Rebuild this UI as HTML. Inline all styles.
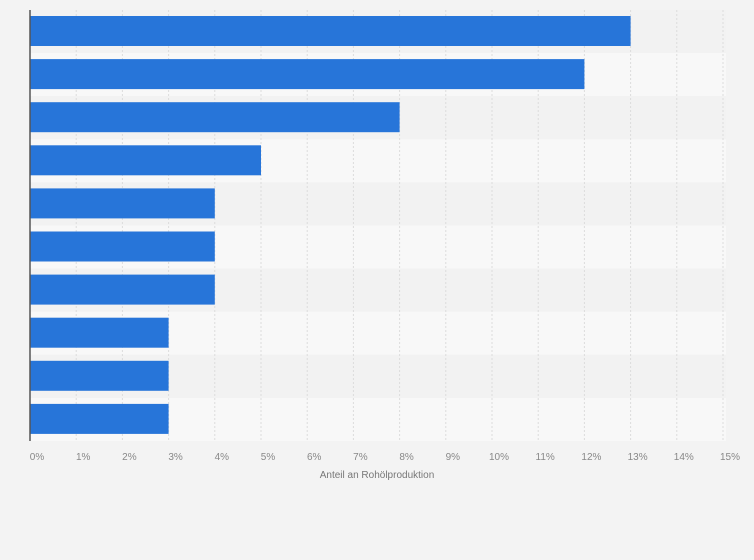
<!DOCTYPE html>
<html><head><meta charset="utf-8"><style>
body{margin:0;background:#f3f3f3;font-family:"Liberation Sans",sans-serif}
svg{display:block}
</style></head><body>
<svg id="c" width="754" height="560"></svg>
<script>
const categories=["A","B","C","D","E","F","G","H","I","J"];
const values=[13,12,8,5,4,4,4,3,3,3];
const ticks=[0,1,2,3,4,5,6,7,8,9,10,11,12,13,14,15];
const NS="http://www.w3.org/2000/svg";
const svgEl=document.getElementById('c');
const x0=30,x1=723,plotTop=10,plotBottom=441,maxV=15;
const xs=v=>x0+(x1-x0)*v/maxV;
const rowH=(plotBottom-plotTop)/categories.length;
function mk(t,a){const e=document.createElementNS(NS,t);for(const k in a)e.setAttribute(k,a[k]);svgEl.appendChild(e);return e;}
categories.forEach((c,i)=>{
  const r=mk('rect',{x:x0,y:plotTop+i*rowH,width:x1-x0+3,height:rowH,fill:i%2?'#f8f8f8':'#f2f2f2'});
  
  
});
ticks.forEach(t=>{
  if(t>0){const g=mk('line',{x1:xs(t),x2:xs(t),y1:plotTop,y2:plotBottom,stroke:'#dcdcdc','stroke-dasharray':'2,2'});
  
  }
  const tx=mk('text',{x:xs(t)+7,y:460,'font-size':10,fill:'#888','text-anchor':'middle'});
  tx.textContent=t+'%';
  
  
});
values.forEach((v,i)=>{
  const b=mk('rect',{x:x0,y:plotTop+i*rowH+6,width:xs(v)-x0,height:30,fill:'#2775d9'});
  
  
});
const ax=mk('line',{x1:x0,x2:x0,y1:plotTop,y2:plotBottom,stroke:'#555','stroke-width':1.5});


const tt=mk('text',{x:377,y:478,'font-size':10,fill:'#777','text-anchor':'middle'});
tt.textContent='Anteil an Rohölproduktion';


</script>
</body></html>
